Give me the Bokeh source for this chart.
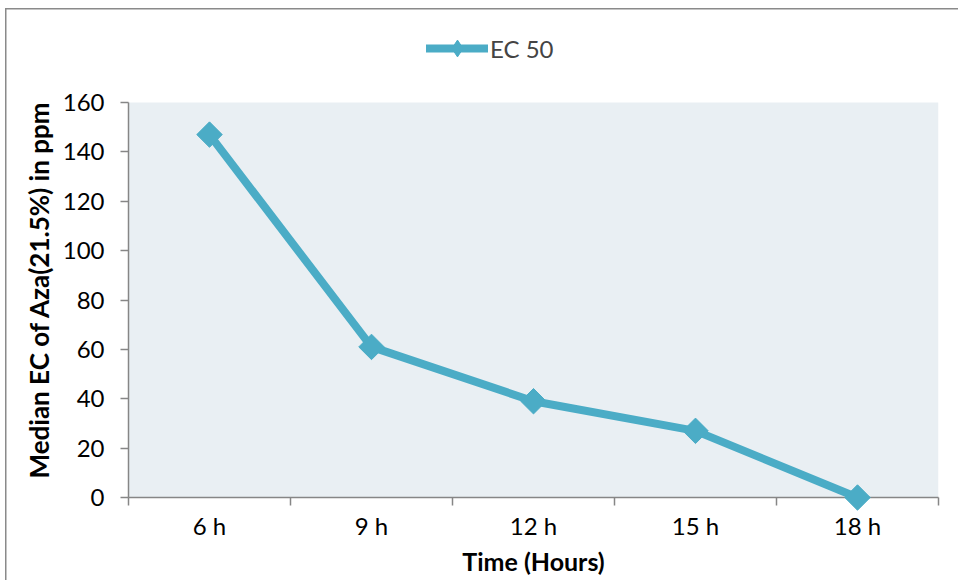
import math
from bokeh.plotting import figure
from bokeh.models import (ColumnDataSource, FixedTicker, Legend, LegendItem,
                          BoxAnnotation, Range1d, Title)
from bokeh.embed import file_html
from bokeh.resources import INLINE

# Median EC50 of Aza (21.5%) over exposure time
times = ["6 h", "9 h", "12 h", "15 h", "18 h"]
ec50 = [147, 61, 39, 27, 0]
y_ticks = [0, 20, 40, 60, 80, 100, 120, 140, 160]
y_max = 160

LINE = "#4BACC6"
AXIS = "#868686"
PANEL = "#E9EFF3"
FONT = "Lato"
FS = "24px"

xs = [i + 0.5 for i in range(len(times))]
src = ColumnDataSource(dict(x=xs, y=ec50, label=times))

# the frame runs up to the top edge so the legend can sit above the data area;
# the value axis only covers 0..y_max
top_px, zero_px = 102, 497
p = figure(width=958, height=580, output_backend="svg", toolbar_location=None,
           x_range=Range1d(0, len(times)),
           y_range=Range1d(0, y_max * zero_px / (zero_px - top_px)),
           min_border_left=128, min_border_right=20,
           min_border_top=0, min_border_bottom=580 - zero_px)
p.background_fill_alpha = 0
p.border_fill_alpha = 0
p.outline_line_color = None
p.grid.visible = False
# thin grey chart border along the left and top
p.styles = {
    "background-image": "linear-gradient(#8a8a8a,#8a8a8a), linear-gradient(#8a8a8a,#8a8a8a)",
    "background-size": "1.5px 100%, 100% 1.5px",
    "background-position": "5px 8px, 5px 8px",
    "background-repeat": "no-repeat",
}

# plot area shading
p.add_layout(BoxAnnotation(left=0, right=len(times), bottom=0, top=y_max,
                           fill_color=PANEL, fill_alpha=1, line_color=None,
                           level="underlay"))

# narrow diamonds used for the legend key (covered by the square markers)
key_r = p.scatter("x", "y", source=src, marker="diamond", size=17,
                  fill_color=LINE, line_color=LINE)
line_r = p.line("x", "y", source=src, line_color=LINE, line_width=8,
                line_cap="round", line_join="round", level="overlay")
pts_r = p.scatter("x", "y", source=src, marker="square", size=18,
                  angle=math.pi / 4, fill_color=LINE, line_color=LINE,
                  level="overlay")

# x axis: labels at category centres, tick marks between categories
xa = p.xaxis[0]
xa.ticker = FixedTicker(ticks=xs, minor_ticks=list(range(len(times) + 1)))
xa.major_label_overrides = {x: t for x, t in zip(xs, times)}
xa.major_tick_line_color = None
xa.major_tick_out = 8
xa.minor_tick_line_color = AXIS
xa.minor_tick_line_width = 1.5
xa.minor_tick_out = 8
xa.minor_tick_in = 0
xa.major_label_standoff = 5
xa.axis_label = "Time (Hours)"
xa.axis_label_standoff = 3
xa.axis_label_text_font = FONT
xa.axis_label_text_font_size = "25px"
xa.axis_label_text_font_style = "bold"
xa.axis_label_text_color = "black"

ya = p.yaxis[0]
ya.ticker = FixedTicker(ticks=y_ticks)
ya.bounds = (0, y_max)
ya.minor_tick_line_color = None
ya.major_tick_line_color = AXIS
ya.major_tick_line_width = 1.5
ya.major_tick_out = 8
ya.major_tick_in = 0
ya.major_label_standoff = 16

for ax in (xa, ya):
    ax.axis_line_color = AXIS
    ax.axis_line_width = 1.5
    ax.major_label_text_font = FONT
    ax.major_label_text_font_size = FS
    ax.major_label_text_color = "black"

# value-axis title
p.add_layout(Title(text="Median EC of Aza(21.5%) in ppm", align="left",
                   offset=19, text_font=FONT, text_font_size="26px",
                   text_font_style="bold", text_color="black",
                   standoff=10), "left")

legend = Legend(items=[LegendItem(label="EC 50", renderers=[line_r, key_r])],
                orientation="horizontal", location=(298, 428),
                label_text_font=FONT, label_text_font_size=FS,
                glyph_width=62, glyph_height=42, label_standoff=2,
                border_line_color=None, background_fill_alpha=0,
                margin=0, padding=0)
p.add_layout(legend, "center")

open("out.html", "w").write(file_html(p, INLINE))
